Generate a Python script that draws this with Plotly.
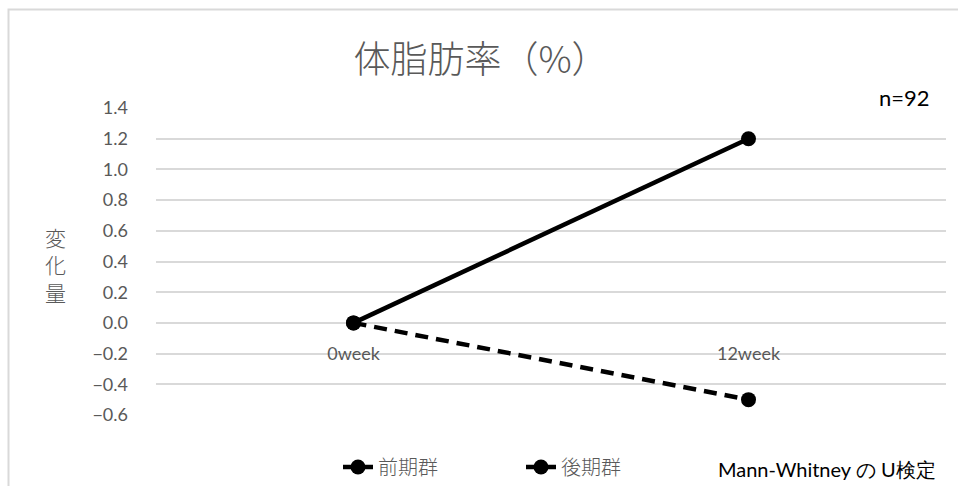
import plotly.graph_objects as go

# Measurement points and mean change in body-fat percentage
weeks = ["0week", "12week"]
early_group = [0.0, 1.2]   # 前期群
late_group = [0.0, -0.5]   # 後期群
y_ticks = [-0.6, -0.4, -0.2, 0.0, 0.2, 0.4, 0.6, 0.8, 1.0, 1.2, 1.4]

GRAY = "#595959"
GRID = "#d9d9d9"
LATIN = "Lato, Liberation Sans, sans-serif"
CJK = "Noto Sans CJK JP, sans-serif"

fig = go.Figure()
fig.add_trace(go.Scatter(
    x=weeks, y=early_group, name="前期群", mode="lines+markers",
    line=dict(color="black", width=4.5),
    marker=dict(color="black", size=15),
))
fig.add_trace(go.Scatter(
    x=weeks, y=late_group, name="後期群", mode="lines+markers",
    line=dict(color="black", width=4.5, dash="13px,8px"),
    marker=dict(color="black", size=15),
))

W, H = 958, 486
L, R, T, B = 156, 12, 108, 71
pw, ph = W - L - R, H - T - B

def px_x(px):
    return (px - L) / pw

def px_y(py):
    return (H - B - py) / ph

# category axis sits on the zero line
zero_pos = (0 - (-0.6)) / (1.4 - (-0.6))

fig.update_layout(
    width=W, height=H,
    margin=dict(l=L, r=R, t=T, b=B, autoexpand=False),
    paper_bgcolor="white", plot_bgcolor="white",
    showlegend=True,
    legend=dict(
        orientation="h", x=px_x(338), y=px_y(467), xanchor="left", yanchor="middle",
        font=dict(family=CJK, size=20, color=GRAY, weight=300),
        entrywidth=138, entrywidthmode="pixels",
        bgcolor="rgba(0,0,0,0)",
    ),
    title=dict(
        text="体脂肪率（%）", x=481 / W, xref="container", xanchor="center",
        y=1 - 60 / H, yanchor="middle", yref="container",
        font=dict(family=CJK, size=37, color=GRAY, weight=300),
    ),
    xaxis=dict(
        type="category", range=[-0.5, 1.5],
        showgrid=False, showline=False, zeroline=False,
        anchor="free", position=zero_pos,
        ticks="outside", ticklen=14, tickcolor="rgba(0,0,0,0)",
        tickfont=dict(family=LATIN, size=18, color=GRAY),
    ),
    yaxis=dict(
        range=[-0.6, 1.4], tickvals=y_ticks, tickformat=".1f",
        showgrid=True, gridcolor=GRID, gridwidth=1.5,
        zeroline=False, showline=False,
        ticklabelstandoff=27,
        tickfont=dict(family=LATIN, size=18, color=GRAY),
    ),
    shapes=[dict(
        type="rect", xref="paper", yref="paper",
        x0=px_x(8.5), x1=px_x(1000), y0=px_y(520), y1=px_y(9.5),
        line=dict(color=GRID, width=2), fillcolor="rgba(0,0,0,0)", layer="below",
    )],
    annotations=[
        dict(text="n=92", xref="paper", yref="paper", x=px_x(932), y=px_y(97),
             xanchor="right", yanchor="middle", showarrow=False,
             font=dict(family=LATIN, size=22, color="black")),
        dict(text="変<br>化<br>量", xref="paper", yref="paper", x=px_x(55), y=px_y(264),
             xanchor="center", yanchor="middle", showarrow=False,
             font=dict(family=CJK, size=21, color=GRAY, weight=300)),
        dict(text="Mann-Whitney の U検定", xref="paper", yref="paper", x=px_x(938), y=px_y(469),
             xanchor="right", yanchor="middle", showarrow=False,
             font=dict(family=LATIN, size=20, color="black")),
    ],
)

fig.write_html("out.html")
